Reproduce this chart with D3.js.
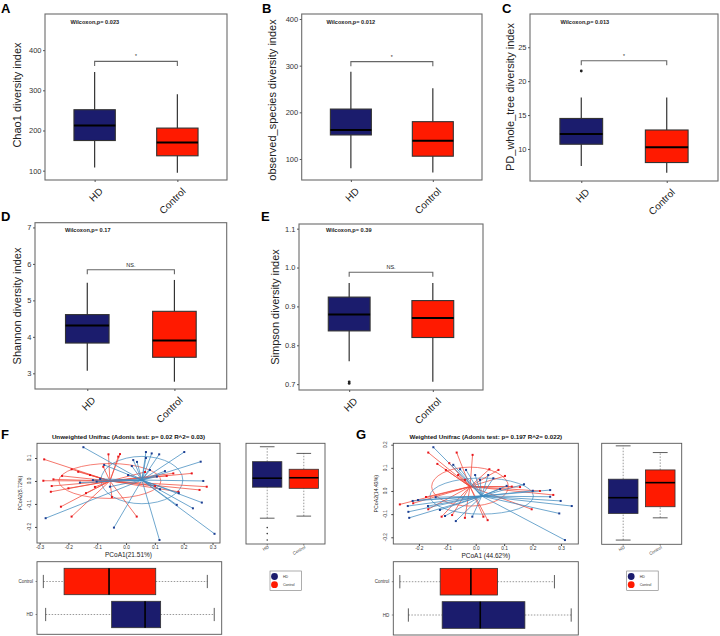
<!DOCTYPE html>
<html><head><meta charset="utf-8">
<script src="https://cdn.jsdelivr.net/npm/d3@7"></script>
<style>body{margin:0;background:#fff}svg{display:block}text{font-family:"Liberation Sans",Arial,sans-serif}</style>
</head><body><svg id="c" width="720" height="636"></svg>
<script>
// ---------------- DATA ----------------
const groups = ["HD", "Control"];
// boxplot stats: [lower whisker, q1, median, q3, upper whisker]
const chao1HD = [108, 175, 212.5, 251.7, 345.8];
const chao1Control = [95, 137, 170, 206, 290];
const chao1Ticks = [100, 200, 300, 400];
const observedHD = [80, 151.5, 162, 207, 287];
const observedControl = [71, 106, 139, 180, 251.6];
const observedTicks = [100, 200, 300, 400];
const pdHD = [7.5, 10.7, 12.2, 14.5, 17.6];
const pdControl = [6.5, 8.0, 10.25, 12.8, 17.6];
const pdHDOutliers = [21.5];
const pdTicks = [10, 15, 20, 25];
const shannonHD = [3.07, 3.83, 4.31, 4.61, 5.48];
const shannonControl = [2.77, 3.44, 3.9, 4.7, 5.56];
const shannonTicks = [3, 4, 5, 6, 7];
const simpsonHD = [0.759, 0.837, 0.879, 0.924, 0.96];
const simpsonControl = [0.706, 0.82, 0.87, 0.915, 0.96];
const simpsonHDOutliers = [0.706, 0.702];
const simpsonTicks = [0.7, 0.8, 0.9, 1.0, 1.1];
const pValues = ["Wilcoxon,p= 0.023", "Wilcoxon,p= 0.012", "Wilcoxon,p= 0.013", "Wilcoxon,p= 0.17", "Wilcoxon,p= 0.39"];
const sigLabels = ["*", "*", "*", "NS.", "NS."];
const bracketValues = [372, 308.6, 23, 5.84, 0.988];

// PCoA F (unweighted)
const fHDPoints = [[-0.148,0.147],[0.069,0.126],[0.089,0.120],[0.115,0.116],[0.202,0.126],[0.259,0.084],[0.025,0.091],[0.020,0.065],[0.268,0.0],[0.263,-0.094],[0.232,-0.119],[0.176,-0.104],[-0.279,-0.162],[-0.042,-0.203],[0.116,-0.257],[0.307,-0.230],[-0.160,-0.007],[-0.102,-0.003],[-0.056,-0.025],[0.183,-0.053],[0.118,-0.036],[0.107,0.019],[0.069,0.1],[0.038,0.083],[-0.090,0.009],[0.135,0.043],[-0.115,0.004],[0.007,0.026],[0.083,0.048],[-0.076,0.07]];
const fControlPoints = [[-0.284,0.094],[-0.287,0.001],[-0.258,-0.022],[-0.261,-0.047],[-0.226,-0.112],[-0.189,-0.155],[-0.061,0.116],[-0.021,0.117],[-0.027,0.106],[0.037,-0.155],[0.280,-0.025],[0.255,-0.039],[0.228,0.033],[0.164,0.033],[-0.252,0.007],[-0.189,0.051],[-0.166,0.040],[-0.200,-0.032],[-0.139,-0.053],[-0.079,0.062],[0.182,-0.047],[0.141,0.022],[-0.222,0.022],[-0.125,0.026],[0.101,-0.022],[-0.049,-0.07],[-0.108,-0.026],[0.066,0.039]];
const fCentroids = [[0.055, 0.004], [-0.056, 0.0]];      // HD, Control
const fEllipseRadii = [[0.142, 0.103], [0.177, 0.076]];  // HD, Control
const fPC1HD = [-0.279, -0.05, 0.066, 0.12, 0.306];
const fPC1Control = [-0.287, -0.215, -0.059, 0.103, 0.282];
const fPC2HD = [-0.162, -0.027, 0.012, 0.084, 0.149];
const fPC2Control = [-0.153, -0.032, 0.014, 0.051, 0.12];
const fPC2HDOutliers = [-0.203, -0.229, -0.257];
const fXTicks = [-0.3, -0.2, -0.1, 0.0, 0.1, 0.2, 0.3];
const fYTicks = [-0.2, -0.1, 0.0, 0.1];

// PCoA G (weighted)
const gHDPoints = [[-0.149,0.189],[-0.079,0.113],[-0.055,0.094],[-0.002,0.069],[0.015,0.048],[0.044,0.069],[0.062,0.055],[0.109,0.022],[0.170,0.029],[0.201,0.001],[0.262,0.004],[0.262,-0.025],[0.299,-0.043],[0.338,-0.065],[-0.222,-0.043],[-0.239,-0.065],[-0.237,-0.090],[-0.234,-0.116],[-0.141,-0.027],[-0.108,-0.108],[-0.070,-0.130],[-0.012,-0.111],[0.294,-0.097],[0.314,-0.212],[-0.203,-0.039],[-0.126,-0.082],[-0.168,-0.065],[0.086,0.009],[-0.034,0.091]];
const gControlPoints = [[-0.167,0.166],[-0.067,0.166],[-0.011,0.156],[-0.135,0.117],[-0.093,0.120],[0.048,0.094],[0.080,0.091],[0.127,0.019],[0.226,0.0],[0.273,-0.017],[-0.267,-0.058],[-0.220,-0.053],[-0.167,-0.079],[-0.120,-0.111],[-0.038,-0.116],[0.027,-0.111],[0.042,-0.126],[0.197,-0.079],[0.156,0.017],[-0.062,0.069],[-0.105,0.091],[-0.175,-0.026],[-0.083,-0.104],[-0.038,0.048],[0.103,0.065]];
const gCentroids = [[0.021, -0.022], [-0.020, 0.019]];
const gEllipseRadii = [[0.182, 0.078], [0.135, 0.084]];
const gPC1HD = [-0.237, -0.118, 0.016, 0.173, 0.336];
const gPC1Control = [-0.267, -0.125, -0.017, 0.077, 0.277];
const gPC2HD = [-0.212, -0.097, -0.029, 0.051, 0.195];
const gPC2Control = [-0.116, -0.068, 0.036, 0.091, 0.166];
const gXTicks = [-0.2, -0.1, 0.0, 0.1, 0.2, 0.3];
const gYTicks = [-0.2, -0.1, 0.0, 0.1, 0.2];

// ---------------- STYLE / LAYOUT ----------------
const NAVY = "#1b1c6d", RED = "#ff1a00";
const LINE_BLUE = "#3f89bd", LINE_RED = "#f2483a";
const PT_BLUE = "#1d3f93", PT_RED = "#e8141a";
const svg = d3.select("#c");

function drawAlpha(p) {
  const [x0, y0, x1, y1] = p.frame;
  const g = svg.append("g");
  const y = d3.scaleLinear().domain(p.domain).range([y1, y0]);
  const x = d3.scalePoint().domain(groups).range([x0, x1]).padding(0.6);
  const bw = x.step() * 0.5;
  g.append("rect").attr("x", x0).attr("y", y0).attr("width", x1 - x0).attr("height", y1 - y0)
    .attr("fill", "#fff").attr("stroke", "#6b6b6b").attr("stroke-width", 1.1);
  const ya = g.append("g").attr("transform", `translate(${x0},0)`)
    .call(d3.axisLeft(y).tickValues(p.ticks).tickSize(2).tickPadding(1.5).tickFormat(p.fmt || d3.format("")));
  ya.select(".domain").remove();
  ya.selectAll("line").attr("stroke", "#555");
  ya.selectAll("text").attr("font-size", 7.5).attr("fill", "#333");
  const xa = g.append("g").attr("transform", `translate(0,${y1})`)
    .call(d3.axisBottom(x).tickSize(2).tickFormat(""));
  xa.select(".domain").remove();
  xa.selectAll("line").attr("stroke", "#555");
  groups.forEach((k, i) => {
    g.append("text").attr("transform", `translate(${x(k) + 4},${y1 + 7}) rotate(-45)`)
      .attr("text-anchor", "end").attr("dy", "0.7em").attr("font-size", 10).attr("fill", "#222").text(k);
  });
  const stats = [p.hd, p.control];
  const fills = [NAVY, RED];
  stats.forEach((s, i) => {
    const cx = x(groups[i]);
    g.append("line").attr("x1", cx).attr("x2", cx).attr("y1", y(s[0])).attr("y2", y(s[4]))
      .attr("stroke", "#333").attr("stroke-width", 1.2);
    g.append("rect").attr("x", cx - bw / 2).attr("width", bw).attr("y", y(s[3])).attr("height", y(s[1]) - y(s[3]))
      .attr("fill", fills[i]).attr("stroke", "#333").attr("stroke-width", 1.1);
    g.append("line").attr("x1", cx - bw / 2).attr("x2", cx + bw / 2).attr("y1", y(s[2])).attr("y2", y(s[2]))
      .attr("stroke", "#000").attr("stroke-width", 2);
  });
  (p.outliers || []).forEach(v => {
    g.append("circle").attr("cx", x("HD")).attr("cy", y(v)).attr("r", 1.4).attr("fill", "#222");
  });
  const by = y(p.bracket);
  g.append("path").attr("d", `M${x("HD")},${by + 4.5}V${by}H${x("Control")}V${by + 4.5}`)
    .attr("fill", "none").attr("stroke", "#666").attr("stroke-width", 1.1);
  g.append("text").attr("x", (x("HD") + x("Control")) / 2).attr("y", by - 3).attr("text-anchor", "middle")
    .attr("font-size", p.sig === "*" ? 5 : 5.5).attr("fill", "#222").text(p.sig);
  g.append("text").attr("x", p.ptext[0]).attr("y", p.ptext[1]).attr("font-size", 5.6).attr("font-weight", "bold")
    .attr("fill", "#222").text(p.pv);
  g.append("text").attr("transform", `translate(${p.ylab[0]},${p.ylab[1]}) rotate(-90)`)
    .attr("text-anchor", "middle").attr("font-size", 11).attr("fill", "#222").text(p.ylabel);
}

drawAlpha({frame:[45,14,227,180], domain:[76.75,490], ticks:chao1Ticks, hd:chao1HD, control:chao1Control,
  bracket:bracketValues[0], sig:sigLabels[0], pv:pValues[0], ptext:[70.5,23.5], ylabel:"Chao1 diversity index", ylab:[21,95]});
drawAlpha({frame:[301.7,14,482,180], domain:[55,410.7], ticks:observedTicks, hd:observedHD, control:observedControl,
  bracket:bracketValues[1], sig:sigLabels[1], pv:pValues[1], ptext:[326.5,23.5], ylabel:"observed_species diversity index", ylab:[276,100]});
drawAlpha({frame:[530,14,718,181], domain:[5.28,29.9], ticks:pdTicks, hd:pdHD, control:pdControl, outliers:pdHDOutliers,
  bracket:bracketValues[2], sig:sigLabels[2], pv:pValues[2], ptext:[560.5,23.5], ylabel:"PD_whole_tree diversity index", ylab:[514,97]});
drawAlpha({frame:[35,222.7,226.7,389], domain:[2.57,7.13], ticks:shannonTicks, hd:shannonHD, control:shannonControl,
  bracket:bracketValues[3], sig:sigLabels[3], pv:pValues[3], ptext:[65,231.5], ylabel:"Shannon diversity index", ylab:[21,306]});
drawAlpha({frame:[299,224,483,390], domain:[0.685,1.112], ticks:simpsonTicks, hd:simpsonHD, control:simpsonControl, outliers:simpsonHDOutliers,
  bracket:bracketValues[4], sig:sigLabels[4], pv:pValues[4], ptext:[326,232], ylabel:"Simpson diversity index", ylab:[279,307], fmt:d3.format(".1f")});

function baseBox(g, s, pos, valScale, horizontal, w, fill) {
  // s: [lo,q1,med,q3,hi]
  const P = (v, o) => horizontal ? [valScale(v), pos + o] : [pos + o, valScale(v)];
  const line = (a, b, attrs) => {
    const l = g.append("line").attr("x1", a[0]).attr("y1", a[1]).attr("x2", b[0]).attr("y2", b[1]);
    Object.entries(attrs).forEach(([k, v]) => l.attr(k, v));
  };
  const dash = {stroke: "#555", "stroke-width": 0.6, "stroke-dasharray": "1.5,1.5"};
  line(P(s[0], 0), P(s[1], 0), dash);
  line(P(s[3], 0), P(s[4], 0), dash);
  line(P(s[0], -w / 4), P(s[0], w / 4), {stroke: "#333", "stroke-width": 0.8});
  line(P(s[4], -w / 4), P(s[4], w / 4), {stroke: "#333", "stroke-width": 0.8});
  const a = P(s[1], -w / 2), b = P(s[3], w / 2);
  g.append("rect").attr("x", Math.min(a[0], b[0])).attr("y", Math.min(a[1], b[1]))
    .attr("width", Math.abs(b[0] - a[0])).attr("height", Math.abs(b[1] - a[1]))
    .attr("fill", fill).attr("stroke", "#333").attr("stroke-width", 0.8);
  line(P(s[2], -w / 2), P(s[2], w / 2), {stroke: "#000", "stroke-width": 1.6});
}

function drawPcoa(p) {
  const [x0, y0, x1, y1] = p.frame;
  const g = svg.append("g");
  const x = d3.scaleLinear().domain(p.xDomain).range([x0, x1]);
  const y = d3.scaleLinear().domain(p.yDomain).range([y1, y0]);
  g.append("rect").attr("x", x0).attr("y", y0).attr("width", x1 - x0).attr("height", y1 - y0)
    .attr("fill", "#fff").attr("stroke", "#555").attr("stroke-width", 0.9);
  const fmt = t => t.toFixed(1);
  const xa = g.append("g").attr("transform", `translate(0,${y1})`)
    .call(d3.axisBottom(x).tickValues(p.xTicks).tickSize(2).tickPadding(1).tickFormat(fmt));
  xa.select(".domain").remove();
  xa.selectAll("line").attr("stroke", "#444");
  xa.selectAll("text").attr("font-size", 4.8).attr("fill", "#333");
  const ya = g.append("g").attr("transform", `translate(${x0},0)`)
    .call(d3.axisLeft(y).tickValues(p.yTicks).tickSize(2).tickPadding(1).tickFormat(""));
  ya.select(".domain").remove();
  ya.selectAll("line").attr("stroke", "#444");
  p.yTicks.forEach(t => {
    g.append("text").attr("transform", `translate(${x0 - 6},${y(t)}) rotate(-90)`).attr("text-anchor", "middle")
      .attr("font-size", 4.8).attr("fill", "#333").text(fmt(t));
  });
  g.append("text").attr("x", (x0 + x1) / 2).attr("y", y0 - 4).attr("text-anchor", "middle")
    .attr("font-size", 6.2).attr("font-weight", "bold").attr("fill", "#111").text(p.title);
  g.append("text").attr("x", (x0 + x1) / 2).attr("y", y1 + 14).attr("text-anchor", "middle")
    .attr("font-size", 6.5).attr("fill", "#222").text(p.xlabel);
  g.append("text").attr("transform", `translate(${x0 - 15},${(y0 + y1) / 2}) rotate(-90)`).attr("text-anchor", "middle")
    .attr("font-size", 5.2).attr("fill", "#222").text(p.ylabel);

  const clip = g.append("g");
  const sets = [
    {pts: p.control, c: p.centroids[1], r: p.radii[1], lc: LINE_RED, pc: PT_RED},
    {pts: p.hd, c: p.centroids[0], r: p.radii[0], lc: LINE_BLUE, pc: PT_BLUE}
  ];
  sets.forEach(s => {
    clip.append("ellipse").attr("cx", x(s.c[0])).attr("cy", y(s.c[1]))
      .attr("rx", x(s.r[0]) - x(0)).attr("ry", y(0) - y(s.r[1]))
      .attr("fill", "none").attr("stroke", s.lc).attr("stroke-width", 0.7);
  });
  sets.forEach(s => {
    clip.selectAll(null).data(s.pts).enter().append("line")
      .attr("x1", d => x(d[0])).attr("y1", d => y(d[1]))
      .attr("x2", x(s.c[0])).attr("y2", y(s.c[1]))
      .attr("stroke", s.lc).attr("stroke-width", 0.75);
  });
  sets.forEach(s => {
    clip.selectAll(null).data(s.pts).enter().append("rect")
      .attr("x", d => x(d[0]) - 1).attr("y", d => y(d[1]) - 1).attr("width", 2).attr("height", 2)
      .attr("fill", s.pc);
  });

  // side boxplot of PC2
  const [sx0, sy0, sx1, sy1] = p.sideFrame;
  g.append("rect").attr("x", sx0).attr("y", sy0).attr("width", sx1 - sx0).attr("height", sy1 - sy0)
    .attr("fill", "#fff").attr("stroke", "#555").attr("stroke-width", 0.9);
  const sx = d3.scalePoint().domain(groups).range([sx0, sx1]).padding(0.58);
  const sideStats = [p.pc2HD, p.pc2Control], fills = [NAVY, RED];
  groups.forEach((k, i) => baseBox(g, sideStats[i], sx(k), y, false, sx.step() * 0.8, fills[i]));
  (p.pc2HDOutliers || []).forEach(v => g.append("circle").attr("cx", sx("HD")).attr("cy", y(v)).attr("r", 0.8).attr("fill", "#333"));
  groups.forEach(k => {
    g.append("line").attr("x1", sx(k)).attr("x2", sx(k)).attr("y1", sy1).attr("y2", sy1 + 1.5).attr("stroke", "#444").attr("stroke-width", 0.6);
    g.append("text").attr("transform", `translate(${sx(k) + 2},${sy1 + 4}) rotate(-30)`).attr("text-anchor", "end")
      .attr("font-size", 4.3).attr("fill", "#333").text(k);
  });

  // bottom boxplot of PC1
  const [bx0, by0, bx1, by1] = p.bottomFrame;
  g.append("rect").attr("x", bx0).attr("y", by0).attr("width", bx1 - bx0).attr("height", by1 - by0)
    .attr("fill", "#fff").attr("stroke", "#555").attr("stroke-width", 0.9);
  const rows = ["Control", "HD"];
  const by = d3.scalePoint().domain(rows).range([by0, by1]).padding(0.6);
  const rowStats = {HD: p.pc1HD, Control: p.pc1Control}, rowFill = {HD: NAVY, Control: RED};
  rows.forEach(k => {
    baseBox(g, rowStats[k], by(k), x, true, by.step() * 0.8, rowFill[k]);
    g.append("line").attr("x1", bx0).attr("x2", bx0 - 1.5).attr("y1", by(k)).attr("y2", by(k)).attr("stroke", "#444").attr("stroke-width", 0.6);
    g.append("text").attr("x", bx0 - 4).attr("y", by(k)).attr("dy", "0.35em").attr("text-anchor", "end")
      .attr("font-size", 4.5).attr("fill", "#333").text(k);
  });

  // legend
  const [lx, ly] = p.legend;
  g.append("rect").attr("x", lx).attr("y", ly).attr("width", 31.5).attr("height", 19.5)
    .attr("fill", "#fff").attr("stroke", "#777").attr("stroke-width", 0.6);
  groups.forEach((k, i) => {
    g.append("circle").attr("cx", lx + 4.5).attr("cy", ly + 5.5 + i * 8.2).attr("r", 3.4).attr("fill", fills[i]);
    g.append("text").attr("x", lx + 13).attr("y", ly + 5.5 + i * 8.2).attr("dy", "0.35em")
      .attr("font-size", 3.6).attr("fill", "#333").text(k);
  });
}

drawPcoa({frame:[37,443.3,220,543], xDomain:[-0.309,0.326], yDomain:[-0.27,0.164],
  xTicks:fXTicks, yTicks:fYTicks, hd:fHDPoints, control:fControlPoints, centroids:fCentroids, radii:fEllipseRadii,
  title:"Unweighted Unifrac (Adonis test: p= 0.02  R^2= 0.03)", xlabel:"PCoA1(21.51%)", ylabel:"PCoA2(5.72%)",
  sideFrame:[246,443.3,325,544], pc2HD:fPC2HD, pc2Control:fPC2Control, pc2HDOutliers:fPC2HDOutliers,
  bottomFrame:[37,561.7,221.7,634.3], pc1HD:fPC1HD, pc1Control:fPC1Control, legend:[270,571]});
drawPcoa({frame:[393.3,443.3,578.3,544], xDomain:[-0.290,0.361], yDomain:[-0.229,0.206],
  xTicks:gXTicks, yTicks:gYTicks, hd:gHDPoints, control:gControlPoints, centroids:gCentroids, radii:gEllipseRadii,
  title:"Weighted Unifrac (Adonis test: p= 0.197  R^2= 0.022)", xlabel:"PCoA1 (44.62%)", ylabel:"PCoA2(14.43%)",
  sideFrame:[601.7,443.3,681.7,544.3], pc2HD:gPC2HD, pc2Control:gPC2Control,
  bottomFrame:[393.3,561.7,578.3,635], pc1HD:gPC1HD, pc1Control:gPC1Control, legend:[626.7,571]});

// panel letters
const panelLetters = [["A",1,13],["B",262,13],["C",502,13],["D",1,221],["E",261,221],["F",1,439],["G",356,439]];
panelLetters.forEach(([t, px, py]) => svg.append("text").attr("x", px).attr("y", py)
  .attr("font-size", 13).attr("font-weight", "bold").attr("fill", "#000").text(t));
</script></body></html>
